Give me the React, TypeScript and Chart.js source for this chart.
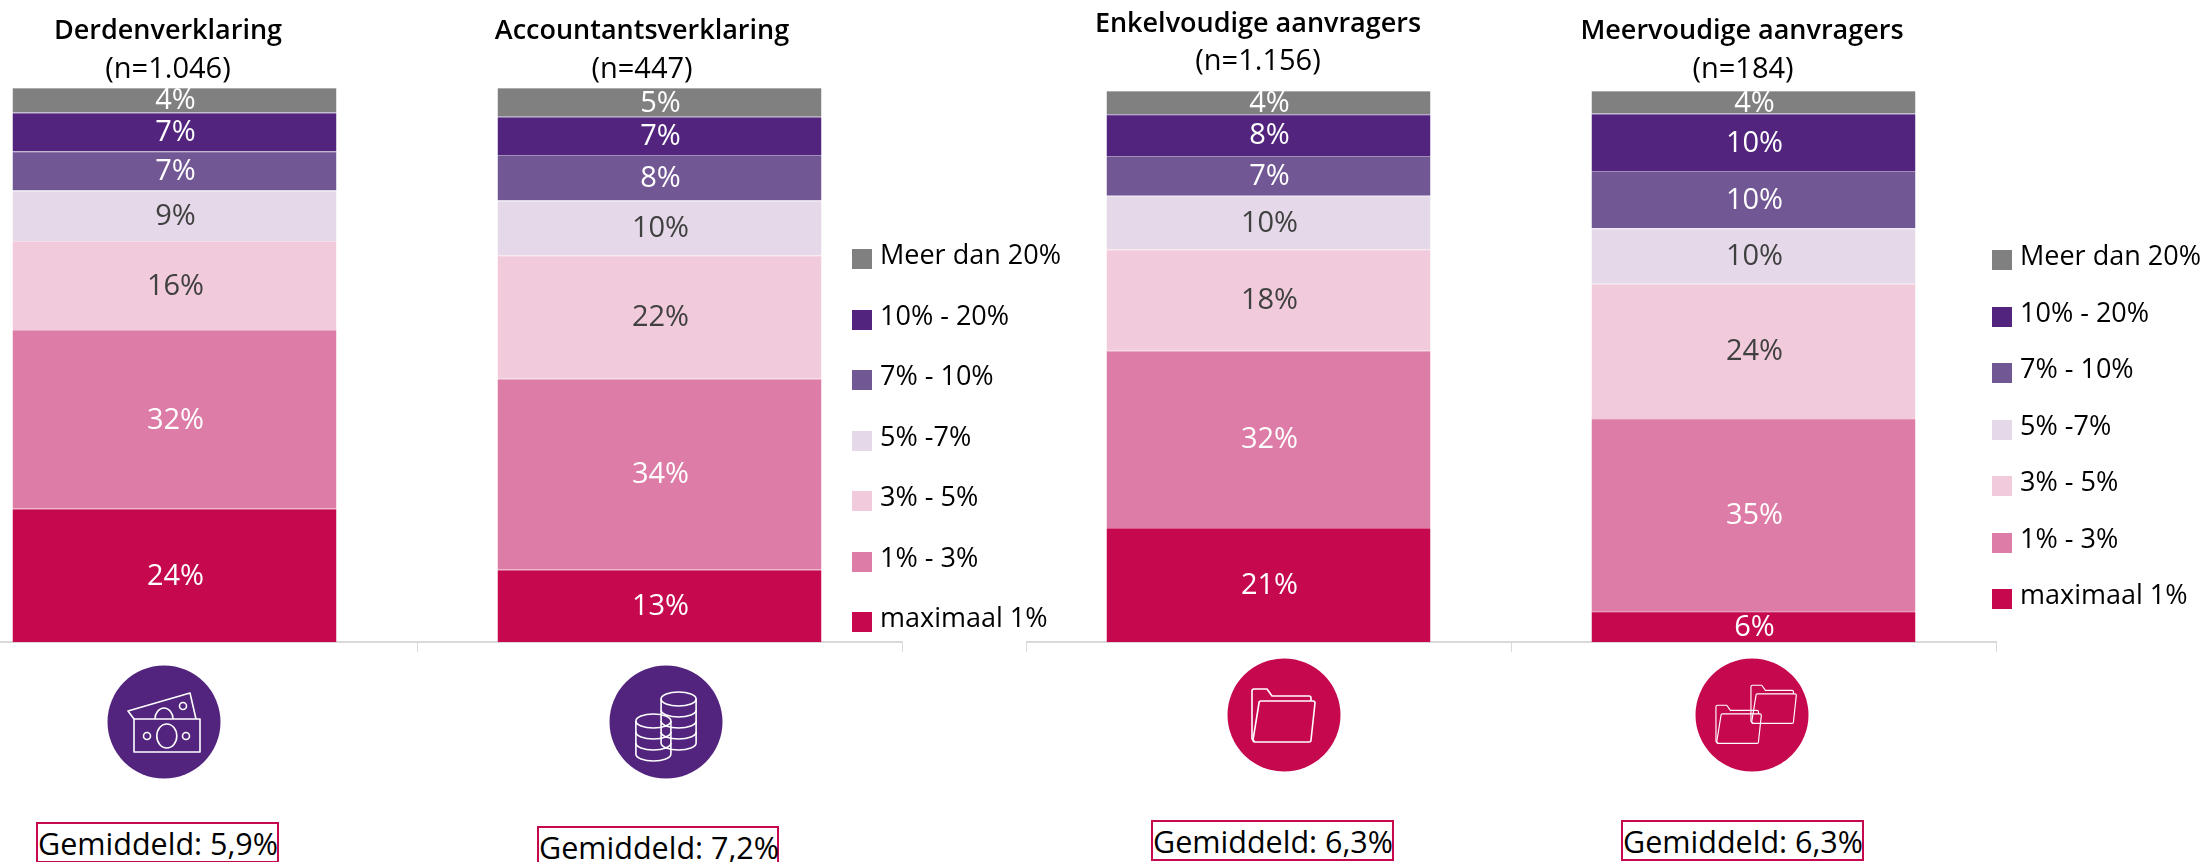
import React, { useEffect, useRef } from "react";
import { Chart, registerables } from "chart.js";

Chart.register(...registerables);

const seriesNames = ["maximaal 1%", "1% - 3%", "3% - 5%", "5% -7%", "7% - 10%", "10% - 20%", "Meer dan 20%"];
const seriesColors = ["#c6084f", "#dd7ca6", "#f1cbdc", "#e5d9e9", "#725795", "#52247e", "#808080"];
const labelColors = ["#ffffff", "#ffffff", "#404040", "#404040", "#ffffff", "#ffffff", "#ffffff"];

const leftCategories = ["Derdenverklaring", "Accountantsverklaring"];
const rightCategories = ["Enkelvoudige aanvragers", "Meervoudige aanvragers"];

const maximaal = [24.1, 13.1, 20.7, 5.6];
const eenTotDrie = [32.2, 34.4, 32.2, 35.0];
const drieTotVijf = [16.1, 22.3, 18.4, 24.4];
const vijfTotZeven = [9.1, 9.9, 9.7, 10.1];
const zevenTotTien = [7.1, 8.2, 7.2, 10.4];
const tienTotTwintig = [7.0, 6.9, 7.6, 10.4];
const meerDanTwintig = [4.4, 5.2, 4.2, 4.1];
const seriesValues = [maximaal, eenTotDrie, drieTotVijf, vijfTotZeven, zevenTotTien, tienTotTwintig, meerDanTwintig];

const counts = ["(n=1.046)", "(n=447)", "(n=1.156)", "(n=184)"];
const averages = ["Gemiddeld: 5,9%", "Gemiddeld: 7,2%", "Gemiddeld: 6,3%", "Gemiddeld: 6,3%"];

const FONT = '"Open Sans", sans-serif';

const barLabels = {
  id: "barLabels",
  afterDatasetsDraw(chart: any) {
    const { ctx } = chart;
    ctx.save();
    ctx.font = `29px ${FONT}`;
    ctx.textAlign = "center";
    ctx.textBaseline = "middle";
    chart.data.datasets.forEach((ds: any, i: number) => {
      chart.getDatasetMeta(i).data.forEach((bar: any, j: number) => {
        ctx.fillStyle = labelColors[i];
        ctx.fillText(`${Math.round(ds.data[j])}%`, bar.x + 1, (bar.y + bar.base) / 2 + 1);
      });
    });
    ctx.restore();
  },
};

function StackChart({ categories, from, top }: { categories: string[]; from: number; top: number }) {
  const ref = useRef<HTMLCanvasElement>(null);
  useEffect(() => {
    const chart = new Chart(ref.current!, {
      type: "bar",
      data: {
        labels: categories,
        datasets: seriesNames.map((name, i) => ({
          label: name,
          data: seriesValues[i].slice(from, from + 2),
          backgroundColor: seriesColors[i],
          borderColor: seriesColors[i] + "aa",
          borderWidth: { top: 1, right: 0, bottom: 0, left: 0 },
          barPercentage: 0.668,
          categoryPercentage: 1,
        })),
      },
      options: {
        animation: false,
        responsive: false,
        layout: { padding: { top, right: 2, left: 0, bottom: 0 } },
        plugins: { legend: { display: false }, tooltip: { enabled: false }, title: { display: false } },
        scales: {
          x: {
            stacked: true,
            ticks: { display: false },
            border: { color: "#d9d9d9", width: 2 },
            grid: { display: true, drawOnChartArea: false, drawTicks: true, tickLength: 10, color: "#d9d9d9", offset: true },
          },
          y: { stacked: true, display: false, min: 0, max: 100 },
        },
      },
      plugins: [barLabels],
    } as any);
    return () => chart.destroy();
  }, []);
  return <canvas ref={ref} width={972} height={652} style={{ position: "absolute", left: from === 0 ? -68 : 1026, top: 0 }} />;
}

const abs = (x: number, y: number): React.CSSProperties => ({ position: "absolute", left: x, top: y });

function Centered({ x, y, text, bold }: { x: number; y: number; text: string; bold?: boolean }) {
  return (
    <div
      style={{
        position: "absolute",
        left: x - 300,
        top: y - 20,
        width: 600,
        height: 40,
        lineHeight: "40px",
        textAlign: "center",
        fontFamily: FONT,
        fontSize: bold ? 27 : 29,
        fontWeight: bold ? 600 : 400,
        color: "#000",
      }}
    >
      {text}
    </div>
  );
}

function Legend({ boxX, boxY, pitch }: { boxX: number; boxY: number; pitch: number }) {
  const order = [...seriesNames.keys()].reverse();
  return (
    <>
      {order.map((s, i) => (
        <React.Fragment key={s}>
          <div style={{ ...abs(boxX, boxY + i * pitch), width: 20, height: 20, background: seriesColors[s] }} />
          <div
            style={{
              ...abs(boxX + 28, boxY + i * pitch - 25),
              height: 60,
              lineHeight: "60px",
              whiteSpace: "nowrap",
              fontFamily: FONT,
              fontSize: 27,
              color: "#000",
            }}
          >
            {seriesNames[s]}
          </div>
        </React.Fragment>
      ))}
    </>
  );
}

function Circle({ cx, cy, color, children }: { cx: number; cy: number; color: string; children: React.ReactNode }) {
  return (
    <svg style={abs(cx - 58, cy - 58)} width={116} height={116} viewBox="-58 -58 116 116">
      <circle r={56.5} fill={color} />
      <g fill="none" stroke="#fff" strokeWidth={1.6} strokeLinejoin="round">
        {children}
      </g>
    </svg>
  );
}

const Folder = () => (
  <>
    <path d="M-29 27 L-32 24 V-24 Q-32 -26 -30 -26 H-17 L-12 -19 H25 Q27 -19 27 -17 V-14" />
    <path d="M-25 -12 Q-25 -14 -23 -14 H29 Q31 -14 31 -12 L27 25 Q27 27 25 27 H-29 Q-31 27 -31 25 Z" />
  </>
);

const Coin = ({ x, top, layers }: { x: number; top: number; layers: number }) => (
  <>
    <ellipse cx={x} cy={top} rx={17.5} ry={7} />
    <path d={`M${x - 17.5} ${top} V${top + layers * 11} A17.5 7 0 0 0 ${x + 17.5} ${top + layers * 11} V${top}`} />
    {Array.from({ length: layers - 1 }, (_, k) => (
      <path key={k} d={`M${x - 17.5} ${top + (k + 1) * 11} A17.5 7 0 0 0 ${x + 17.5} ${top + (k + 1) * 11}`} />
    ))}
  </>
);

function AvgBox({ x0, x1, y0, text }: { x0: number; x1: number; y0: number; text: string }) {
  return (
    <div
      style={{
        ...abs(x0, y0),
        width: x1 - x0,
        height: 41,
        boxSizing: "border-box",
        border: "2px solid #c6084f",
        textAlign: "center",
        lineHeight: "39px",
        fontFamily: FONT,
        fontSize: 30.5,
        whiteSpace: "nowrap",
        color: "#000",
      }}
    >
      {text}
    </div>
  );
}

export default function App() {
  return (
    <div style={{ position: "absolute", left: 0, top: 0, width: 2203, height: 862, overflow: "hidden", background: "#fff" }}>
      <StackChart categories={leftCategories} from={0} top={88} />
      <StackChart categories={rightCategories} from={2} top={91} />

      <Centered x={168} y={29} text={leftCategories[0]} bold />
      <Centered x={168} y={67} text={counts[0]} />
      <Centered x={642} y={29} text={leftCategories[1]} bold />
      <Centered x={642} y={67} text={counts[1]} />
      <Centered x={1258} y={22} text={rightCategories[0]} bold />
      <Centered x={1258} y={59} text={counts[2]} />
      <Centered x={1742} y={29} text={rightCategories[1]} bold />
      <Centered x={1743} y={67} text={counts[3]} />

      <Legend boxX={852} boxY={249} pitch={60.5} />
      <Legend boxX={1992} boxY={250} pitch={56.5} />

      <Circle cx={163.5} cy={722} color="#52247e">
        <path d="M-30 -3 L-36 -11 L26 -29 L32 -3" />
        <rect x={-30} y={-3} width={66} height={33} />
        <ellipse cx={2.8} cy={14} rx={10} ry={12} />
        <circle cx={-17} cy={14} r={3.5} />
        <circle cx={22} cy={14} r={3.5} />
        <path d="M-9 -3 A9 11 0 0 1 9 -3" />
        <circle cx={19} cy={-16} r={3.5} />
      </Circle>
      <Circle cx={666.4} cy={722} color="#52247e">
        <Coin x={12.6} top={-23} layers={4} />
        <Coin x={-12.6} top={-1} layers={3} />
      </Circle>
      <Circle cx={1284} cy={715} color="#c6084f">
        <Folder />
      </Circle>
      <Circle cx={1752} cy={715} color="#c6084f">
        <g transform="translate(-13 9) scale(0.72)"><Folder /></g>
        <g transform="translate(22 -11) scale(0.72)"><Folder /></g>
      </Circle>

      <AvgBox x0={36} x1={279} y0={822} text={averages[0]} />
      <AvgBox x0={537} x1={779} y0={826} text={averages[1]} />
      <AvgBox x0={1151} x1={1394} y0={820} text={averages[2]} />
      <AvgBox x0={1621} x1={1864} y0={820} text={averages[3]} />
    </div>
  );
}
